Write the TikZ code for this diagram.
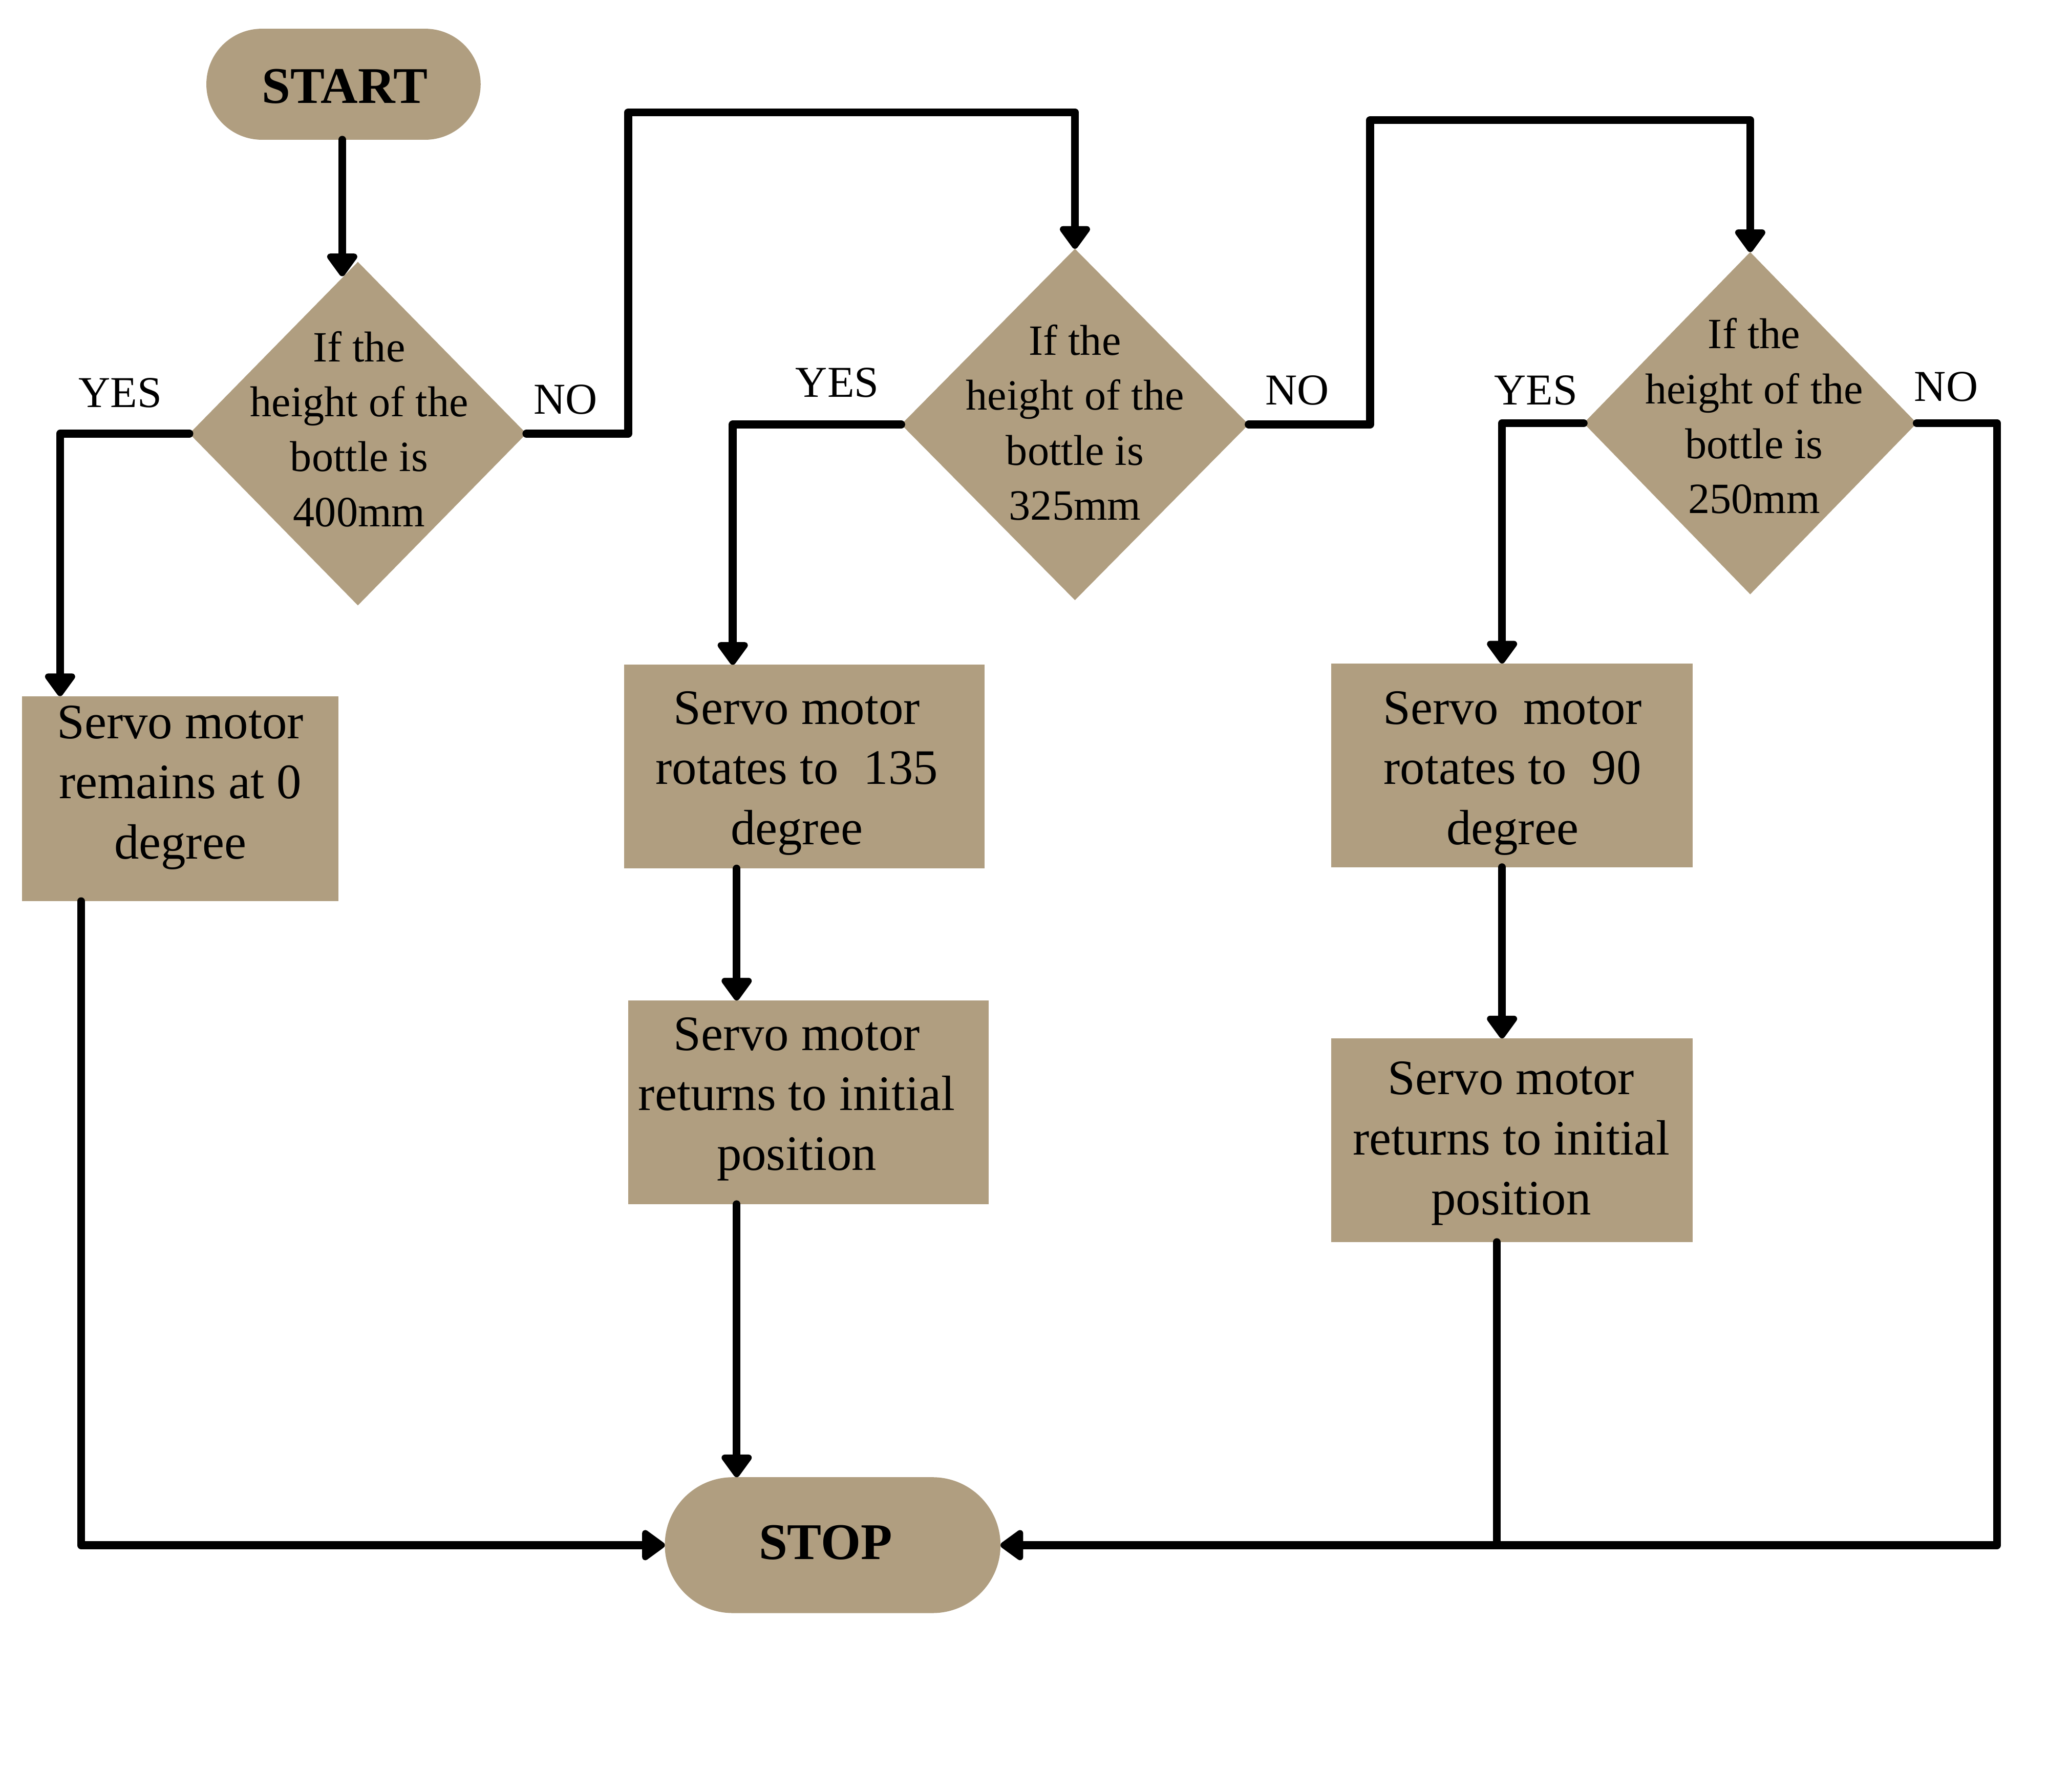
\documentclass[tikz,border=0pt]{standalone}
\usepackage{fontspec}
\setmainfont{Liberation Serif}
\usetikzlibrary{arrows.meta,shapes.geometric,shapes.misc}
\definecolor{khaki}{RGB}{176,158,128}
\begin{document}
\begin{tikzpicture}[x=0.25mm,y=-0.25mm,
  shapefill/.style={fill=khaki,draw=none,inner sep=0pt,outer sep=0pt},
  terminal/.style={shapefill,rounded rectangle},
  decision/.style={shapefill,diamond},
  process/.style={shapefill,rectangle},
  boxtext/.style={align=center,font=\fontsize{27}{32.7}\selectfont,inner sep=0pt},
  dectext/.style={align=center,font=\fontsize{23.5}{29.9}\selectfont,inner sep=0pt},
  branch/.style={font=\fontsize{24}{28}\selectfont,inner sep=0pt},
  termtext/.style={font=\bfseries\fontsize{28}{30}\selectfont,inner sep=0pt},
  flow/.style={line width=1.5mm,line cap=round,line join=round},
  arr/.style={flow,-{Triangle[width=6.6mm,length=4.8mm,round]}},
]
\useasboundingbox (0,0) rectangle (1568,1372);
\fill[white] (0,0) rectangle (1568,1372);

% terminals
\node[terminal,minimum width=52.5mm,minimum height=21.25mm] (start) at (263,64.5) {};
\node[terminal,minimum width=64.25mm,minimum height=26mm] (stop) at (637.5,1183) {};

% decisions
\node[decision,minimum width=64.5mm,minimum height=65.75mm] (d1) at (274,332) {};
\node[decision,minimum width=66.5mm,minimum height=67.25mm] (d2) at (823,325) {};
\node[decision,minimum width=63.75mm,minimum height=65.5mm] (d3) at (1340,324) {};

% process boxes
\node[process,minimum width=60.5mm,minimum height=39.25mm] (b1) at (138,611.5) {};
\node[process,minimum width=69mm,minimum height=39mm] (b2) at (616,587) {};
\node[process,minimum width=69mm,minimum height=39mm] (b3) at (619,844) {};
\node[process,minimum width=69.25mm,minimum height=39mm] (b4) at (1157.5,586) {};
\node[process,minimum width=69.25mm,minimum height=39mm] (b5) at (1157.5,873) {};

% texts
\node[termtext] (startlbl) at (264,66) {START};
\node[termtext] (stoplbl) at (632,1181) {STOP};
\node[dectext] (d1t) at (275,328.5) {If the\\height of the\\bottle is\\400mm};
\node[dectext] (d2t) at (823,323.5) {If the\\height of the\\bottle is\\325mm};
\node[dectext] (d3t) at (1343,318.5) {If the\\height of the\\bottle is\\250mm};
\node[boxtext] (b1t) at (138,603) {Servo motor\\remains at 0\\degree};
\node[boxtext] (b2t) at (610,592) {Servo motor\\rotates to~ 135\\degree};
\node[boxtext] (b3t) at (610,841.5) {Servo motor\\returns to initial\\position};
\node[boxtext] (b4t) at (1158,592) {Servo~ motor\\rotates to~ 90\\degree};
\node[boxtext] (b5t) at (1157,875.5) {Servo motor\\returns to initial\\position};

\node[branch] (y1) at (92,301) {YES};
\node[branch] (n1) at (433,306) {NO};
\node[branch] (y2) at (641,293) {YES};
\node[branch] (n2) at (993,299) {NO};
\node[branch] (y3) at (1176,299) {YES};
\node[branch] (n3) at (1490,296) {NO};

% routing points
\coordinate (k0) at (262,0);
\coordinate (k1) at (46,0);
\coordinate (k2) at (62,0);
\coordinate (k3) at (481,86);
\coordinate (k4) at (561,0);
\coordinate (k5) at (564,0);
\coordinate (k6) at (1049,92);
\coordinate (k7) at (1150,0);
\coordinate (k8) at (1146,0);
\coordinate (k9) at (1529,0);

% connectors
\draw[arr] (k0 |- start.south) -- ([yshift=-2.75mm]k0 |- d1.north);
\draw[arr] (d1.west) -- (d1.west -| k1) -- (k1 |- b1.north);
\draw[arr] (k2 |- b1.south) -- (k2 |- stop.west) -- (stop.west);
\draw[arr] (d1.east) -- (d1.east -| k3) -- (k3) -- (k3 -| d2.north) -- (d2.north);
\draw[arr] (d2.west) -- (d2.west -| k4) -- (k4 |- b2.north);
\draw[arr] (k5 |- b2.south) -- (k5 |- b3.north);
\draw[arr] (k5 |- b3.south) -- (k5 |- stop.north);
\draw[arr] (d2.east) -- (d2.east -| k6) -- (k6) -- (k6 -| d3.north) -- (d3.north);
\draw[arr] (d3.west) -- (d3.west -| k7) -- (k7 |- b4.north);
\draw[arr] (k7 |- b4.south) -- (k7 |- b5.north);
\draw[flow] (k8 |- b5.south) -- (k8 |- stop.east);
\draw[arr] (d3.east) -- (d3.east -| k9) -- (k9 |- stop.east) -- (stop.east);
\end{tikzpicture}
\end{document}
